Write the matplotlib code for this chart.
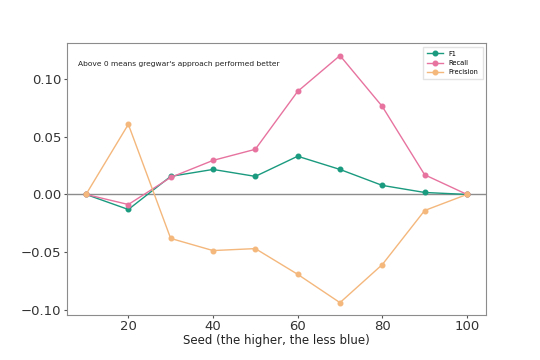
import matplotlib

matplotlib.use("Agg")

import matplotlib.pyplot as plt

seeds = [10, 20, 30, 40, 50, 60, 70, 80, 90, 100]
f1 = [0.0, -0.013, 0.0156, 0.0216, 0.0156, 0.033, 0.0216, 0.0078, 0.0017, 0.0]
recall = [0.0, -0.0087, 0.0147, 0.0294, 0.039, 0.089, 0.120, 0.076, 0.017, 0.0]
precision = [0.0, 0.0606, -0.038, -0.0485, -0.0468, -0.069, -0.0935, -0.0606, -0.0139, 0.0]

fig = plt.figure(figsize=(5.4, 3.6), dpi=100, facecolor="white")
ax = fig.add_axes([0.124, 0.125, 0.776, 0.755])

ax.axhline(0, color="#8c8c8c", linewidth=1.0, zorder=1)
ax.plot(seeds, f1, color="#1a9a7f", marker="o", markersize=3.3, linewidth=1.0, label="F1")
ax.plot(seeds, recall, color="#e7739f", marker="o", markersize=3.3, linewidth=1.0, label="Recall")
ax.plot(seeds, precision, color="#f4b77c", marker="o", markersize=3.3, linewidth=1.0, label="Precision")

ax.text(0.026, 0.923, "Above 0 means gregwar's approach performed better",
        transform=ax.transAxes, fontsize=5.4, color="#222222", va="center")

ax.set_xticks([20, 40, 60, 80, 100])
ax.set_yticks([-0.10, -0.05, 0.0, 0.05, 0.10])
ax.tick_params(labelsize=9.5, colors="#555555", labelcolor="#333333", length=2)
ax.tick_params(axis="x", pad=1.5)
ax.tick_params(axis="y", pad=2)
ax.set_xlabel("Seed (the higher, the less blue)", fontsize=8.5, color="#222222", labelpad=0.5)

for side in ax.spines.values():
    side.set_color("#8c8c8c")

ax.legend(loc="upper right", fontsize=4.8, frameon=True, edgecolor="#dddddd", fancybox=False,
          handlelength=2.5, borderpad=0.6)

fig.savefig("out.png", dpi=100, facecolor="white")
